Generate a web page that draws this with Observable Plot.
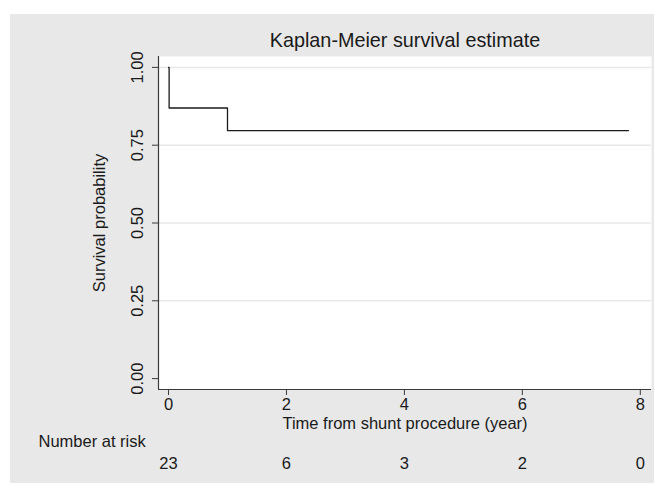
<!DOCTYPE html>
<html>
<head>
<meta charset="utf-8">
<script src="https://cdn.jsdelivr.net/npm/d3@7"></script>
<script src="https://cdn.jsdelivr.net/npm/@observablehq/plot@0.6"></script>
<style>
  html, body { margin: 0; padding: 0; background: #ffffff; }
  #wrap { position: absolute; left: 10px; top: 14px; width: 644px; height: 469px; background: #e8e8e8; }
  #wrap svg { display: block; background: transparent; }
</style>
</head>
<body>
<div id="wrap"></div>
<script>
// Kaplan-Meier step data (time in years, survival probability)
const kmTime = [0, 0.01, 1.0, 7.8];
const kmSurv = [1.0, 0.8696, 0.797, 0.797];

// Axis ticks
const xTicks = [0, 2, 4, 6, 8];
const yTicks = [0, 0.25, 0.5, 0.75, 1.0];
const yTickLabels = ["0.00", "0.25", "0.50", "0.75", "1.00"];
const gridValues = [0.25, 0.5, 0.75, 1.0];

// Number at risk table
const riskTime = [0, 2, 4, 6, 8];
const riskCount = [23, 6, 3, 2, 0];

const titleText = "Kaplan-Meier survival estimate";
const xTitle = "Time from shunt procedure (year)";
const yTitle = "Survival probability";
const riskLabel = "Number at risk";

const km = kmTime.map((t, i) => ({t, s: kmSurv[i]}));
const risk = riskTime.map((t, i) => ({t, n: riskCount[i]}));
const yLab = yTicks.map((v, i) => ({v, label: yTickLabels[i]}));

const xDomain = [-0.17, 8.19];
const yDomain = [-0.035, 1.035];
const font = "'Liberation Sans', Arial, Helvetica, sans-serif";
const axisColor = "#3a3a3a";

const chart = Plot.plot({
  width: 644,
  height: 469,
  marginLeft: 148,
  marginTop: 42,
  marginRight: 3,
  marginBottom: 94,
  style: {fontFamily: font, fontSize: "16px", color: "#1a1a1a", background: "transparent", overflow: "visible"},
  x: {domain: xDomain},
  y: {domain: yDomain},
  marks: [
    Plot.frame({fill: "white", stroke: null}),
    Plot.gridY(gridValues, {stroke: "#e8e8e8", strokeOpacity: 1, strokeWidth: 1.5}),
    Plot.ruleX([xDomain[0]], {stroke: axisColor, strokeWidth: 1.2}),
    Plot.ruleY([yDomain[0]], {stroke: axisColor, strokeWidth: 1.2}),
    Plot.axisX({ticks: xTicks, tickSize: 6, tickPadding: 3, stroke: axisColor, fontSize: 16.5, tickFormat: d => String(d), label: null}),
    Plot.axisY({ticks: yTicks, tickSize: 6, stroke: axisColor, tickFormat: () => "", label: null}),
    Plot.text(yLab, {y: "v", text: "label", frameAnchor: "left", dx: -21, rotate: -90, fontSize: 16.5, textAnchor: "middle", lineAnchor: "middle", fill: "#1a1a1a"}),
    Plot.line(km, {x: "t", y: "s", curve: "step-after", stroke: "#1a1a1a", strokeWidth: 1.3}),
    Plot.text([titleText], {frameAnchor: "top", dy: -16, fontSize: 19.8, textAnchor: "middle", lineAnchor: "middle", fill: "#1a1a1a"}),
    Plot.text([xTitle], {frameAnchor: "bottom", dy: 34.5, fontSize: 16.5, textAnchor: "middle", lineAnchor: "middle", fill: "#1a1a1a"}),
    Plot.text([yTitle], {frameAnchor: "left", dx: -59, rotate: -90, fontSize: 16.5, textAnchor: "middle", lineAnchor: "middle", fill: "#1a1a1a"}),
    Plot.text([riskLabel], {frameAnchor: "bottom-left", dx: -120, dy: 52, textAnchor: "start", fontSize: 16.5, lineAnchor: "middle", fill: "#1a1a1a"}),
    Plot.text(risk, {x: "t", text: d => String(d.n), frameAnchor: "bottom", dy: 74, fontSize: 16.5, textAnchor: "middle", lineAnchor: "middle", fill: "#1a1a1a"})
  ]
});
document.getElementById("wrap").appendChild(chart);
</script>
</body>
</html>
